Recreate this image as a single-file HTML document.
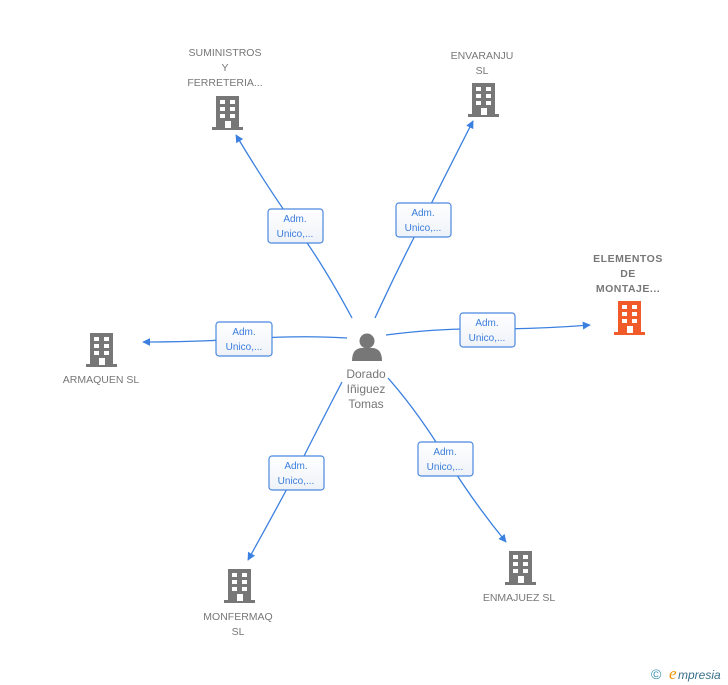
<!DOCTYPE html>
<html><head><meta charset="utf-8"><style>
html,body{margin:0;padding:0;background:#fff;}
svg{display:block;font-family:"Liberation Sans",sans-serif;}
.n{fill:#777;font-size:10.5px;text-anchor:middle;}
.l{fill:#3b7ddd;font-size:10px;text-anchor:middle;}
.e{fill:none;stroke:#3b80e0;stroke-width:1.3;}
</style></head><body>
<svg width="728" height="685" viewBox="0 0 728 685">
<defs>
<marker id="a" viewBox="0 0 10 10" refX="9" refY="5" markerWidth="8" markerHeight="8" orient="auto" markerUnits="userSpaceOnUse"><path d="M0,0 L10,5 L0,10 z" fill="#3b80e0"/></marker>
<g id="b">
<rect x="-11" y="-17" width="23" height="32" />
<rect x="-15" y="14" width="31" height="3"/>
<g fill="#fff">
<rect x="-7" y="-13" width="5" height="4"/><rect x="3" y="-13" width="5" height="4"/>
<rect x="-7" y="-6" width="5" height="4"/><rect x="3" y="-6" width="5" height="4"/>
<rect x="-7" y="1" width="5" height="4"/><rect x="3" y="1" width="5" height="4"/>
<rect x="-2" y="8" width="6" height="7"/>
</g>
</g>
<linearGradient id="g" x1="0" y1="0" x2="0" y2="1"><stop offset="0" stop-color="#fff"/><stop offset="1" stop-color="#eef2f8"/></linearGradient>
</defs>

<path class="e" d="M352,318 Q322,262 295,226 Q264,182 236,135" marker-end="url(#a)"/>
<path class="e" d="M375,318 Q398,268 423,220 Q448,170 473,121" marker-end="url(#a)"/>
<path class="e" d="M386,335 Q440,328 487,329 Q540,329 590,325" marker-end="url(#a)"/>
<path class="e" d="M347,338 Q300,335 244,339 Q190,342 143,342" marker-end="url(#a)"/>
<path class="e" d="M342,382 Q318,428 296,472 Q272,517 248,560" marker-end="url(#a)"/>
<path class="e" d="M388,378 Q418,412 446,458 Q474,503 506,542" marker-end="url(#a)"/>

<g stroke="#4a88e0" stroke-width="1.2" fill="url(#g)">
<rect x="268" y="209" width="55" height="34" rx="3"/>
<rect x="396" y="203" width="55" height="34" rx="3"/>
<rect x="460" y="313" width="55" height="34" rx="3"/>
<rect x="216" y="322" width="56" height="34" rx="3"/>
<rect x="269" y="456" width="55" height="34" rx="3"/>
<rect x="418" y="442" width="55" height="34" rx="3"/>
</g>
<g class="l">
<text x="295" y="222">Adm.</text><text x="295" y="237">Unico,...</text>
<text x="423" y="216">Adm.</text><text x="423" y="231">Unico,...</text>
<text x="487" y="326">Adm.</text><text x="487" y="341">Unico,...</text>
<text x="244" y="335">Adm.</text><text x="244" y="350">Unico,...</text>
<text x="296" y="469">Adm.</text><text x="296" y="484">Unico,...</text>
<text x="445" y="455">Adm.</text><text x="445" y="470">Unico,...</text>
</g>

<g fill="#777">
<use href="#b" x="227" y="113"/>
<use href="#b" x="483" y="100"/>
<use href="#b" x="101" y="350"/>
<use href="#b" x="239" y="586"/>
<use href="#b" x="520" y="568"/>
</g>
<g fill="#f15a29"><use href="#b" x="629" y="318"/></g>

<g fill="#777">
<circle cx="367" cy="341" r="7.5"/>
<path d="M352,361 Q352,349 361,348 L373,348 Q382,349 382,361 z"/>
</g>
<g class="n" style="font-size:12px">
<text x="366" y="378">Dorado</text><text x="366" y="393">Iñiguez</text><text x="366" y="408">Tomas</text>
</g>

<g class="n">
<text x="225" y="56">SUMINISTROS</text><text x="225" y="71">Y</text><text x="225" y="86">FERRETERIA...</text>
<text x="482" y="59">ENVARANJU</text><text x="482" y="74">SL</text>
<text x="101" y="383">ARMAQUEN  SL</text>
<text x="238" y="620">MONFERMAQ</text><text x="238" y="635">SL</text>
<text x="519" y="601">ENMAJUEZ  SL</text>
</g>
<g class="n" style="font-weight:bold;letter-spacing:0.5px">
<text x="628" y="262">ELEMENTOS</text><text x="628" y="277">DE</text><text x="628" y="292">MONTAJE...</text>
</g>

<text x="651" y="679" fill="#3a8fb0" font-size="14">©</text>
<text x="669" y="679" fill="#f39200" font-size="17" font-style="italic" font-family="Liberation Serif,serif">e</text>
<text x="678" y="679" fill="#3a6f8a" font-size="12" font-style="italic">mpresia</text>
</svg>
</body></html>
